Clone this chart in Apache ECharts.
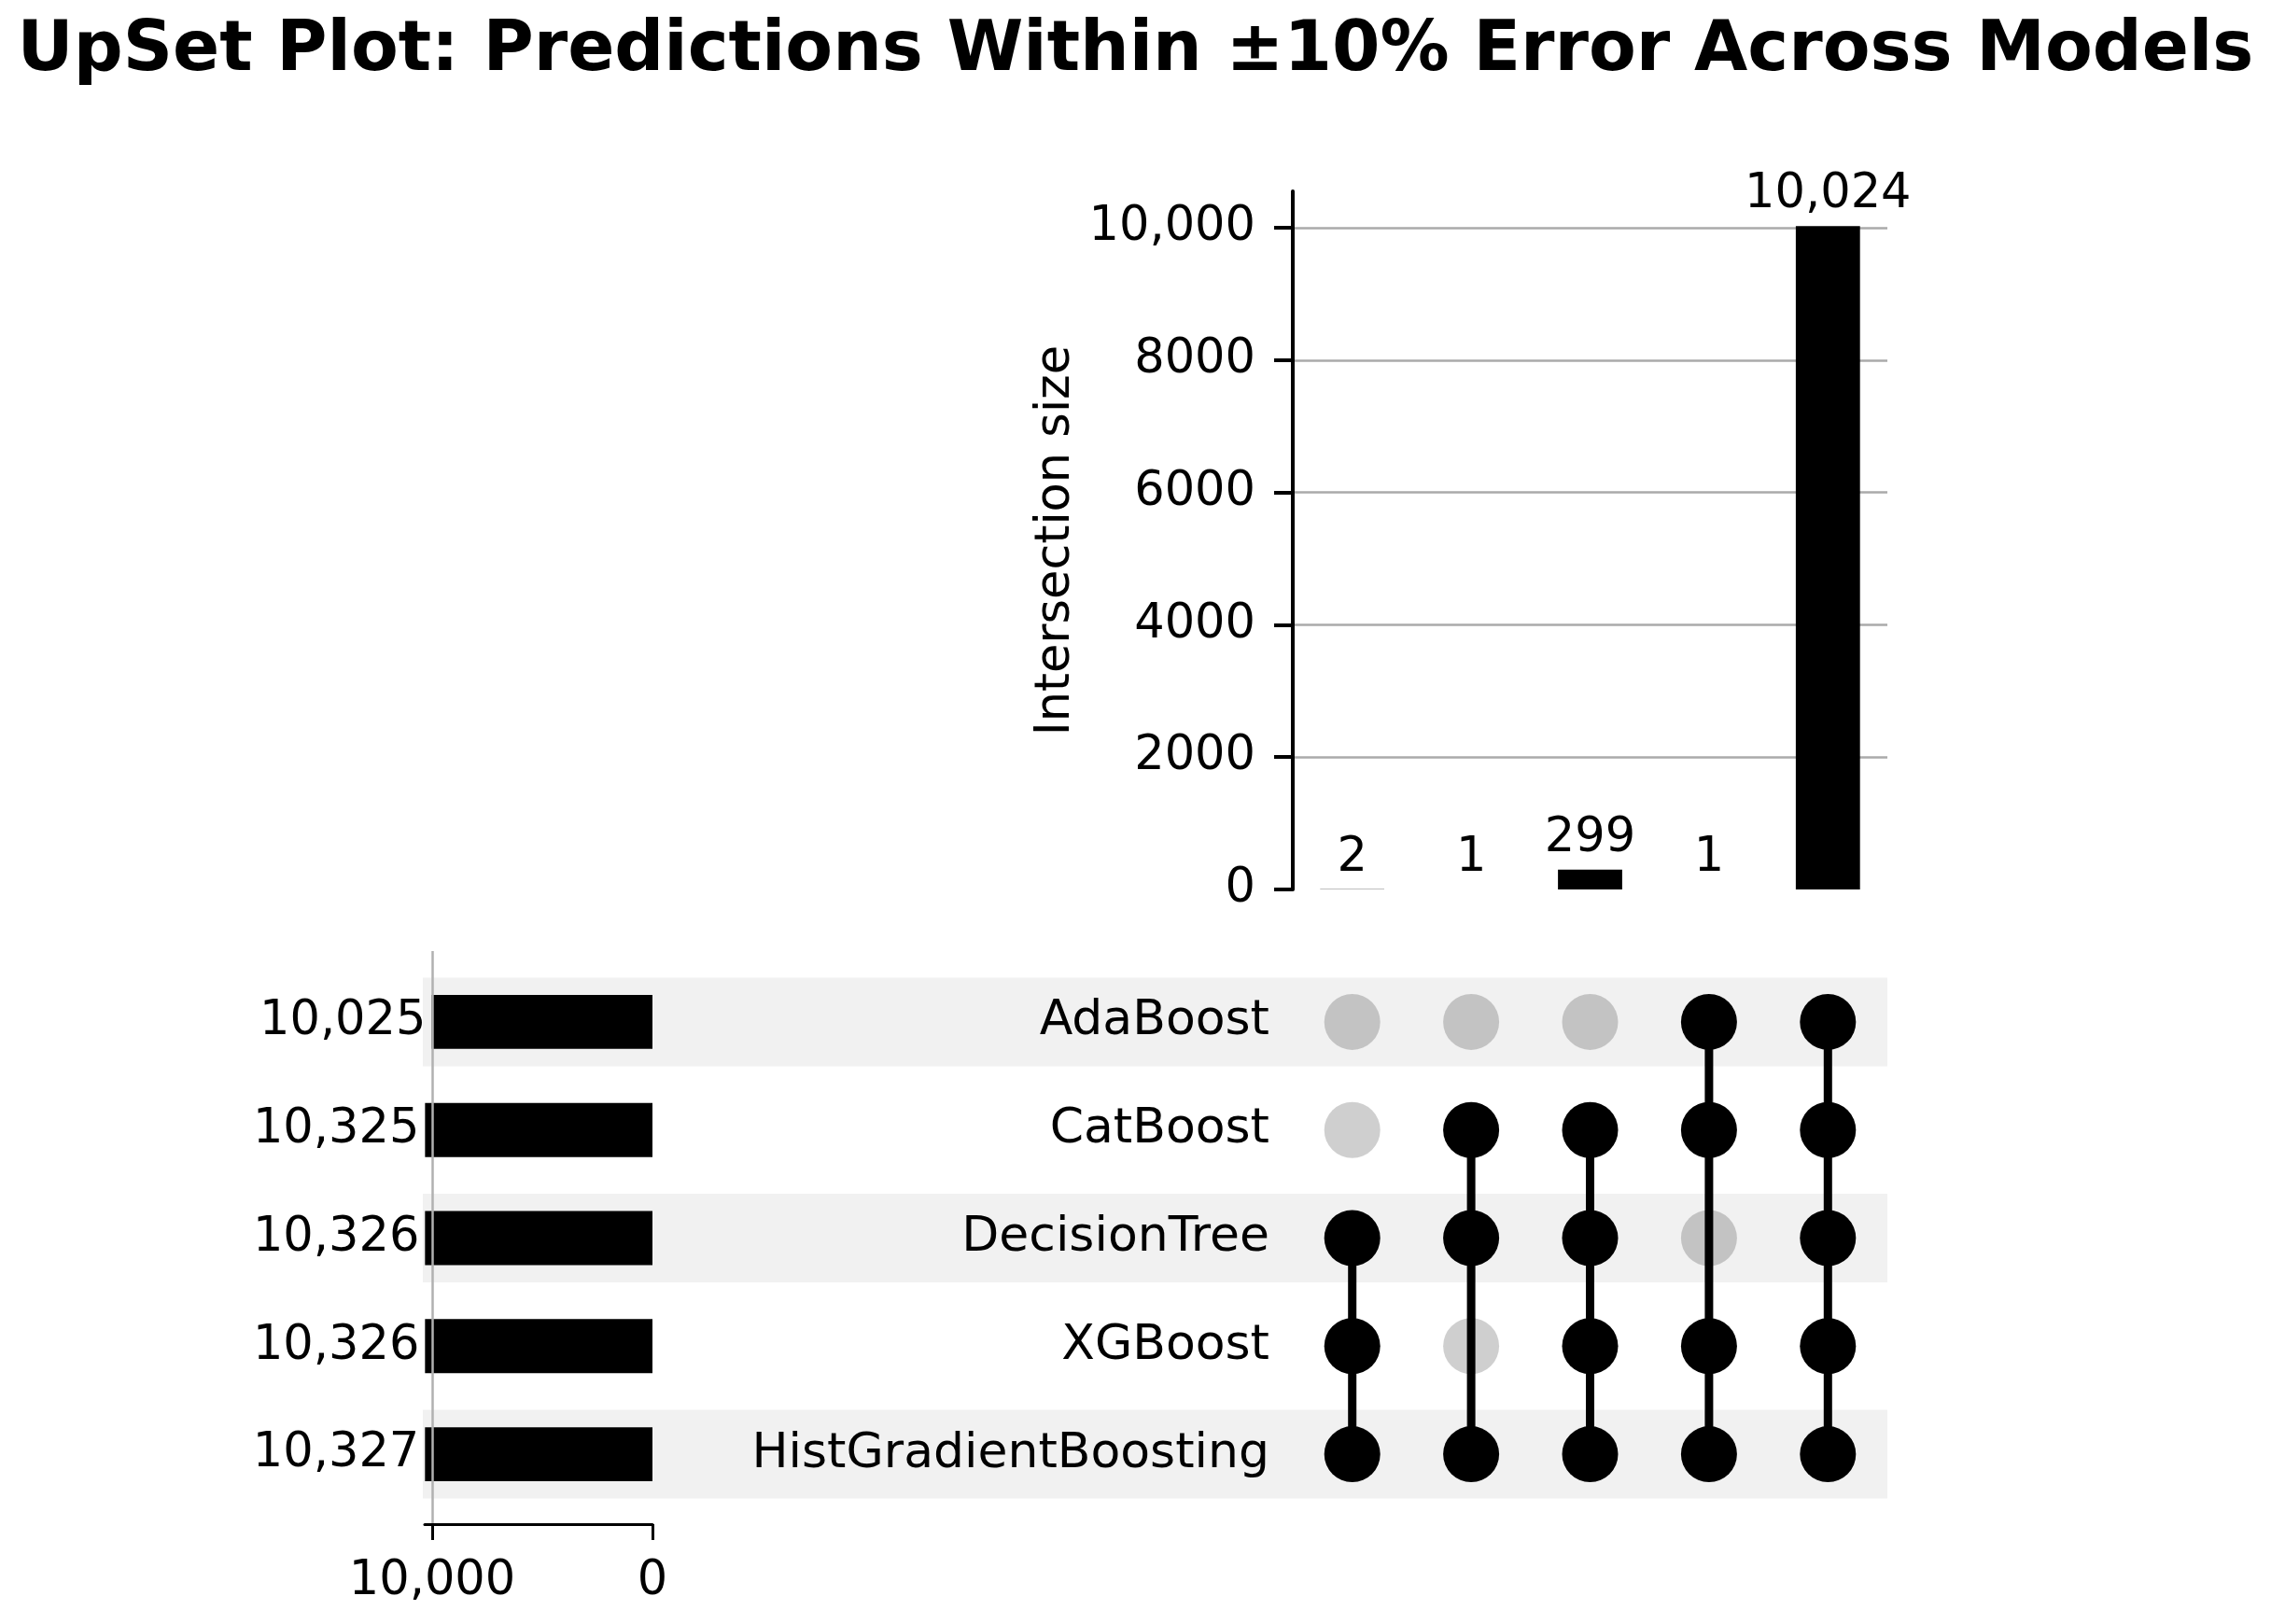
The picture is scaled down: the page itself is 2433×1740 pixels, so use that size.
<!DOCTYPE html>
<html>
<head>
<meta charset="utf-8">
<script src="https://cdn.jsdelivr.net/npm/echarts@6/dist/echarts.min.js"></script>
<style>
html,body{margin:0;padding:0;background:#fff;}
#chart{width:2433px;height:1740px;}
</style>
</head>
<body>
<div id="chart"></div>
<script>
// ---- data ----
const models = ['AdaBoost', 'CatBoost', 'DecisionTree', 'XGBoost', 'HistGradientBoosting'];
const totals = [10025, 10325, 10326, 10326, 10327];
const intersections = ['I1', 'I2', 'I3', 'I4', 'I5'];
const intersectionSizes = [2, 1, 299, 1, 10024];
const membership = [
  ['DecisionTree', 'XGBoost', 'HistGradientBoosting'],
  ['CatBoost', 'DecisionTree', 'HistGradientBoosting'],
  ['CatBoost', 'DecisionTree', 'XGBoost', 'HistGradientBoosting'],
  ['AdaBoost', 'CatBoost', 'XGBoost', 'HistGradientBoosting'],
  ['AdaBoost', 'CatBoost', 'DecisionTree', 'XGBoost', 'HistGradientBoosting']
];
const intersectionTicks = [0, 2000, 4000, 6000, 8000, 10000];
const totalsTicks = [0, 10000];

const FONT = 'DejaVu Sans';
const fmtTick = v => (v >= 10000 ? v.toLocaleString('en-US') : String(v));
const fmtComma = v => Number(v).toLocaleString('en-US');

// matrix dots
const activeDots = [], inactiveDots = [];
intersections.forEach((c, i) => {
  models.forEach(m => {
    (membership[i].includes(m) ? activeDots : inactiveDots).push([c, m]);
  });
});
// connector lines (first to last member)
const lineSeries = intersections.map((c, i) => {
  const idx = membership[i].map(m => models.indexOf(m)).sort((a, b) => a - b);
  return {
    type: 'line', xAxisIndex: 1, yAxisIndex: 1, z: 4, silent: true,
    symbol: 'none', animation: false,
    lineStyle: { color: '#000', width: 9, opacity: 1 },
    data: [[c, models[idx[0]]], [c, models[idx[idx.length - 1]]]]
  };
});

const chart = echarts.init(document.getElementById('chart'), null, { renderer: 'canvas' });
chart.setOption({
  backgroundColor: '#fff',
  animation: false,
  textStyle: { fontFamily: FONT },
  title: {
    text: 'UpSet Plot: Predictions Within ±10% Error Across Models',
    left: 'center', top: 14,
    textStyle: { fontFamily: FONT, fontSize: 74, fontWeight: 'bold', color: '#000' }
  },
  grid: [
    { left: 1385, top: 205, width: 637, height: 748 },   // intersection bars
    { left: 1385, top: 1037, width: 637, height: 579 },  // matrix
    { left: 453, top: 1037, width: 1569, height: 579 },  // shading bands
    { left: 455, top: 1037, width: 244, height: 579 },   // totals bars
    { left: 455, top: 1019, width: 244, height: 614 }    // totals axis
  ],
  xAxis: [
    { gridIndex: 0, type: 'category', data: intersections, show: false },
    { gridIndex: 1, type: 'category', data: intersections, show: false },
    { gridIndex: 2, type: 'value', min: 0, max: 1, show: false },
    { gridIndex: 3, type: 'value', min: 0, max: 10340, inverse: true, show: false },
    {
      gridIndex: 4, type: 'value', min: 0, max: 10340, interval: 10000, inverse: true,
      position: 'bottom', z: 6,
      axisLine: { show: true, lineStyle: { color: '#000', width: 3 } },
      axisTick: { show: true, length: 17, lineStyle: { color: '#000', width: 3 }, customValues: totalsTicks },
      axisLabel: { fontSize: 51, color: '#000', margin: 36, fontFamily: FONT,
        customValues: totalsTicks, formatter: v => fmtComma(v) },
      splitLine: { show: true, showMinLine: false, lineStyle: { color: '#b0b0b0', width: 2.5 } }
    }
  ],
  yAxis: [
    {
      gridIndex: 0, type: 'value', min: 0, max: 10550, interval: 2000,
      name: 'Intersection size', nameLocation: 'middle', nameGap: 228,
      nameTextStyle: { fontSize: 51, color: '#000', fontFamily: FONT },
      axisLine: { show: true, lineStyle: { color: '#000', width: 4 } },
      axisTick: { show: true, length: 20, lineStyle: { color: '#000', width: 4 }, customValues: intersectionTicks },
      axisLabel: { fontSize: 51, color: '#000', margin: 40, fontFamily: FONT,
        customValues: intersectionTicks, formatter: v => fmtTick(v) },
      splitLine: { show: true, showMinLine: false, lineStyle: { color: '#aaaaaa', width: 2.7 } }
    },
    {
      gridIndex: 1, type: 'category', data: models, inverse: true, z: 6,
      axisLine: { show: false }, axisTick: { show: false },
      axisLabel: { fontSize: 52, color: '#000', margin: 25, fontFamily: FONT }
    },
    { gridIndex: 2, type: 'category', data: models, inverse: true, show: false },
    { gridIndex: 3, type: 'category', data: models, inverse: true, show: false },
    { gridIndex: 4, type: 'value', min: 0, max: 1, show: false }
  ],
  series: [
    {
      type: 'bar', xAxisIndex: 2, yAxisIndex: 2, z: 1, silent: true,
      barWidth: '82%', itemStyle: { color: '#f1f1f1' },
      data: models.map((m, i) => (i % 2 === 0 ? 1 : '-'))
    },
    {
      type: 'bar', xAxisIndex: 3, yAxisIndex: 3, z: 2, silent: true,
      barWidth: '50%', itemStyle: { color: '#000' },
      label: { show: true, position: 'left', distance: 6, fontSize: 51, color: '#000', fontFamily: FONT,
        formatter: p => fmtComma(p.value) },
      data: totals
    },
    {
      type: 'bar', xAxisIndex: 0, yAxisIndex: 0, z: 2, silent: true,
      barWidth: '54%', itemStyle: { color: '#000' },
      label: { show: true, position: 'top', distance: 8, fontSize: 51, color: '#000', fontFamily: FONT,
        formatter: p => fmtComma(p.value) },
      data: intersectionSizes
    },
    {
      type: 'scatter', xAxisIndex: 1, yAxisIndex: 1, z: 3, silent: true,
      symbolSize: 60, itemStyle: { color: 'rgba(0,0,0,0.19)', opacity: 1 },
      data: inactiveDots
    },
    ...lineSeries,
    {
      type: 'scatter', xAxisIndex: 1, yAxisIndex: 1, z: 5, silent: true,
      symbolSize: 60, itemStyle: { color: '#000', opacity: 1 },
      data: activeDots
    }
  ]
});
</script>
</body>
</html>
